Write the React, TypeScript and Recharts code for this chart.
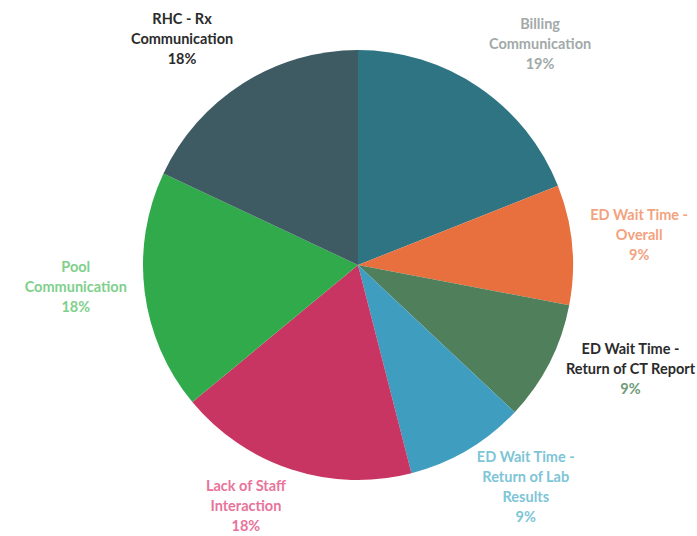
import { PieChart, Pie, Cell } from 'recharts';

const categories = [
  'Billing\nCommunication',
  'ED Wait Time -\nOverall',
  'ED Wait Time -\nReturn of CT Report',
  'ED Wait Time -\nReturn of Lab\nResults',
  'Lack of Staff\nInteraction',
  'Pool\nCommunication',
  'RHC - Rx\nCommunication',
];
const shares = [19, 9, 9, 9, 18, 18, 18];

const sliceColors = ['#2E7483', '#E8703E', '#4F7F5B', '#3F9DC0', '#C93563', '#30AA4B', '#3E5A63'];
const labelColors = ['#A2A9A9', '#F3A27E', '#2B2B2B', '#7DC5D6', '#E8739B', '#80D08C', '#2B2B2B'];
const pctColors = ['#A2A9A9', '#F3A27E', '#6E9A78', '#7DC5D6', '#E8739B', '#80D08C', '#2B2B2B'];

const data = categories.map((name, i) => ({ name, value: shares[i] }));

const RAD = Math.PI / 180;
const FONT_SIZE = 14.5;
const FONT = `bold ${FONT_SIZE}px Lato, 'Open Sans', sans-serif`;
const LH = 20;

let ctx: CanvasRenderingContext2D | null = null;
const measure = (s: string) => {
  if (!ctx) ctx = document.createElement('canvas').getContext('2d');
  if (!ctx) return s.length * 8;
  ctx.font = FONT;
  return ctx.measureText(s).width;
};

// place each label box just outside the slice, on the side its mid-angle points to
const renderLabel = (props: any) => {
  const { cx, cy, midAngle, outerRadius, index, percent } = props;
  const lines = categories[index].split('\n');
  const all = [...lines, `${Math.round(percent * 100)}%`];
  const w = Math.max(...all.map(measure));
  const h = all.length * LH;
  const cos = Math.cos(-midAngle * RAD);
  const sin = Math.sin(-midAngle * RAD);
  const r = outerRadius + 18;
  const ax = cx + r * cos;
  const ay = cy + r * sin;
  const x = ax + Math.sign(cos) * w / 2;
  const y = ay + Math.sign(sin) * sin * sin * h / 2 - 9;
  const top = y - ((all.length - 1) * LH) / 2;
  return (
    <text
      x={x}
      y={top}
      textAnchor="middle"
      dominantBaseline="central"
      fontFamily="Lato, 'Open Sans', sans-serif"
      fontWeight={700}
      fontSize={FONT_SIZE}
    >
      {all.map((l, k) => (
        <tspan
          key={k}
          x={x}
          dy={k === 0 ? 0 : LH}
          fill={k === all.length - 1 ? pctColors[index] : labelColors[index]}
        >
          {l}
        </tspan>
      ))}
    </text>
  );
};

export default function App() {
  return (
    <div style={{ position: 'absolute', left: 0, top: 0, width: 697, height: 536, background: '#fff' }}>
      <PieChart width={697} height={536}>
        <Pie
          data={data}
          dataKey="value"
          cx={353}
          cy={260}
          outerRadius={215}
          startAngle={90}
          endAngle={-270}
          stroke="none"
          label={renderLabel}
          labelLine={false}
          isAnimationActive={false}
        >
          {data.map((d, i) => (
            <Cell key={d.name} fill={sliceColors[i]} />
          ))}
        </Pie>
      </PieChart>
    </div>
  );
}
